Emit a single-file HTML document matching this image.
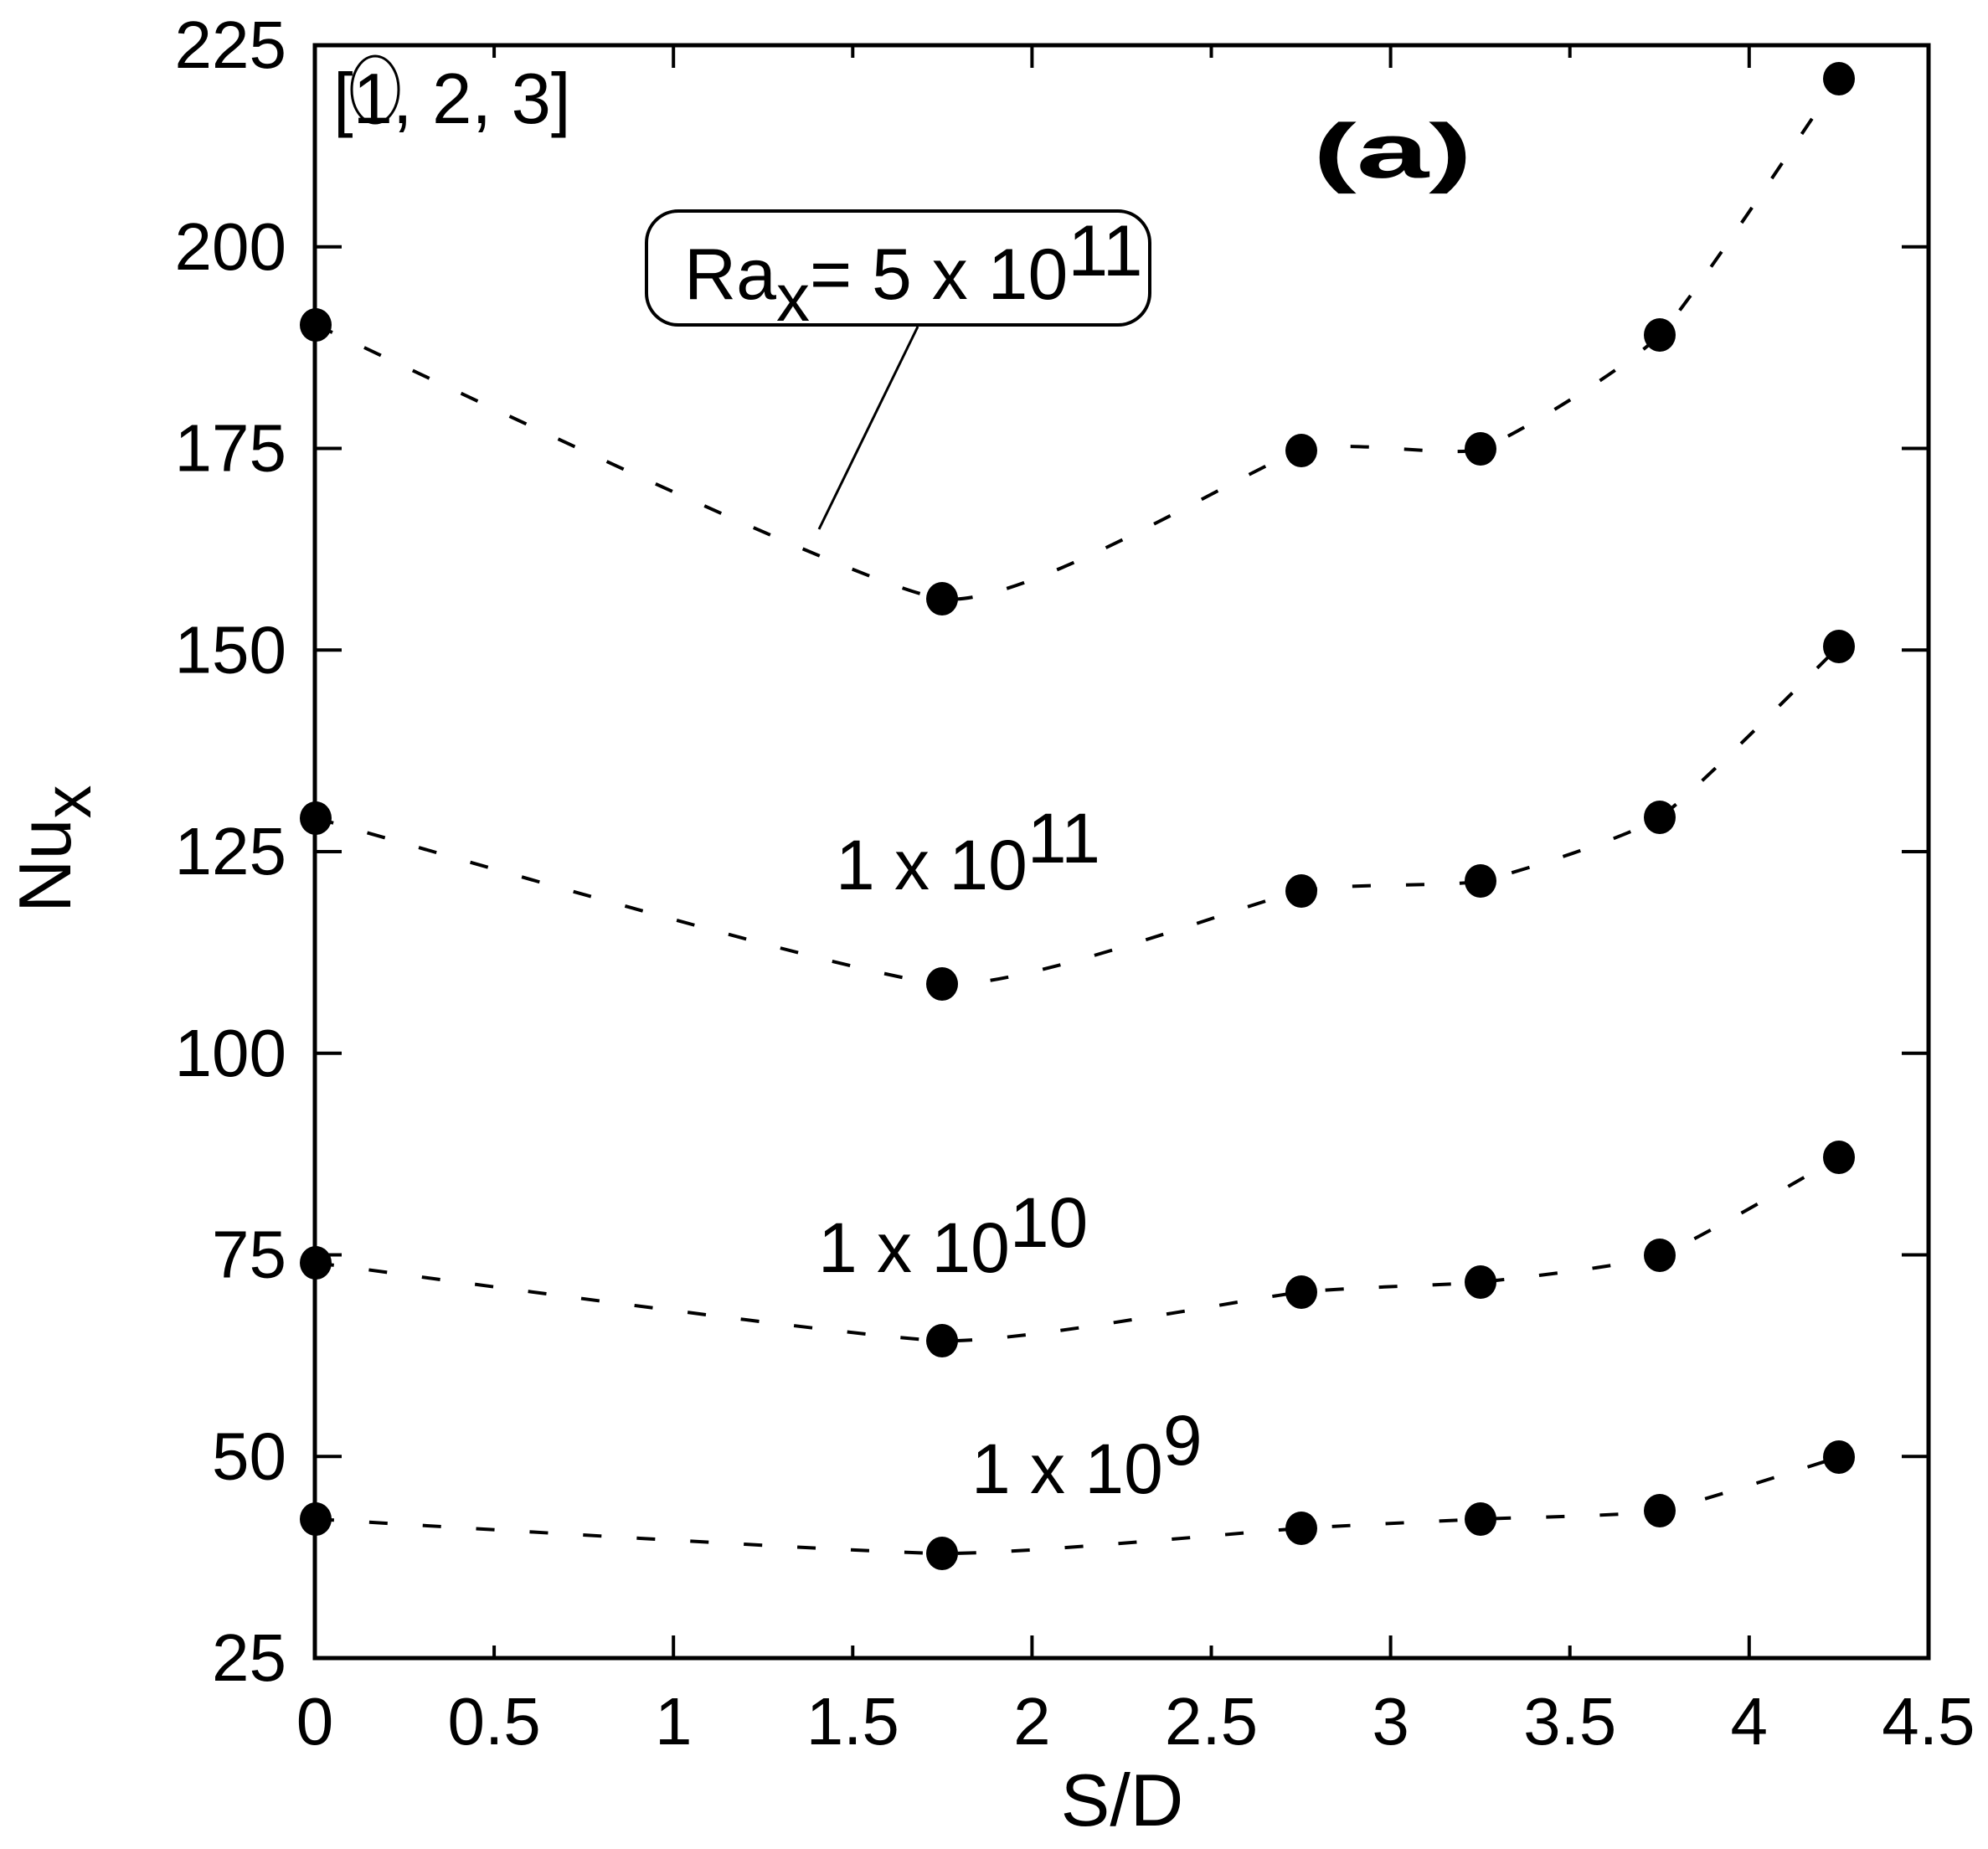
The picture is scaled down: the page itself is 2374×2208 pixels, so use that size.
<!DOCTYPE html>
<html><head><meta charset="utf-8"><style>
html,body{margin:0;padding:0;background:#fff;}
svg{display:block;}
text{font-family:"Liberation Sans",sans-serif;fill:#000;}
</style></head><body>
<svg id="s" width="2374" height="2208" viewBox="0 0 2374 2208" xmlns="http://www.w3.org/2000/svg">
<rect width="2374" height="2208" fill="#fff"/>
<g id="ticks" stroke="#000" stroke-width="4"></g>
<rect x="376" y="54" width="1927" height="1926" fill="none" stroke="#000" stroke-width="5"/>
<g id="ylab" font-size="80"></g>
<g id="xlab" font-size="80"></g>
<g id="series"></g>
<text x="1340" y="2180" font-size="88" text-anchor="middle">S/D</text>
<text transform="translate(84,1090) rotate(-90)" font-size="88">Nu<tspan font-size="80" dy="24">x</tspan></text>
<text x="1568" y="212" font-family="Liberation Serif, serif" font-weight="bold" font-size="92" textLength="190" lengthAdjust="spacingAndGlyphs">(a)</text>
<text x="398" y="147" font-size="85">[1, 2, 3]</text>
<ellipse cx="448" cy="107" rx="28" ry="40" fill="none" stroke="#000" stroke-width="3"/>
<rect x="772" y="252" width="601" height="136" rx="38" ry="38" fill="#fff" stroke="#000" stroke-width="4"/>
<line x1="1096" y1="390" x2="978" y2="632" stroke="#000" stroke-width="3"/>
<text x="817" y="357" font-size="86">Ra<tspan dy="26" font-size="80">x</tspan><tspan dy="-26">= 5 x 10</tspan><tspan dy="-28">11</tspan></text>
<text x="998" y="1062" font-size="84">1 x 10<tspan dy="-32">11</tspan></text>
<text x="977" y="1519" font-size="84">1 x 10<tspan dy="-30">10</tspan></text>
<text x="1160" y="1783" font-size="84">1 x 10<tspan dy="-34">9</tspan></text>
</svg>
<script>
var NS="http://www.w3.org/2000/svg";
function el(n,a,p,t){var e=document.createElementNS(NS,n);for(var k in a)e.setAttribute(k,a[k]);if(t!==undefined)e.textContent=t;p.appendChild(e);return e;}
var L=376,R=2303,T=54,B=1980;
function X(s){return L+s*428.2;}
function Y(v){return T+(225-v)*9.63;}
var tk=document.getElementById('ticks');
for(var v=25;v<=225;v+=25){var y=Y(v);
 el('line',{x1:L,y1:y,x2:L+32,y2:y},tk);el('line',{x1:R,y1:y,x2:R-32,y2:y},tk);
 el('text',{x:342,y:y+27,'text-anchor':'end'},document.getElementById('ylab'),String(v));}
var xl=['0','0.5','1','1.5','2','2.5','3','3.5','4','4.5'];
for(var i=0;i<=9;i++){var s=i*0.5,x=X(s),len=(i%2==0)?27:15;
 el('line',{x1:x,y1:B,x2:x,y2:B-len},tk);el('line',{x1:x,y1:T,x2:x,y2:T+len},tk);
 el('text',{x:x,y:2083,'text-anchor':'middle'},document.getElementById('xlab'),xl[i]);}
var xs=[377,1125,1554,1768,1982,2196];
var S=[[388,715,538,536,400,94],[977,1175,1064,1052,976,772],[1508,1601,1543,1531,1499,1382],[1814,1855,1825,1814,1804,1740]];
var g=document.getElementById('series');
S.forEach(function(ys){
 var P=xs.map(function(x,i){return [x,ys[i]];});
 var d='M'+P[0][0]+','+P[0][1];
 var k=12;
 for(var i=0;i<P.length-1;i++){
  var p0=P[Math.max(i-1,0)],p1=P[i],p2=P[i+1],p3=P[Math.min(i+2,P.length-1)];
  var c1=[p1[0]+(p2[0]-p0[0])/k,p1[1]+(p2[1]-p0[1])/k];
  var c2=[p2[0]-(p3[0]-p1[0])/k,p2[1]-(p3[1]-p1[1])/k];
  d+=' C'+c1[0]+','+c1[1]+' '+c2[0]+','+c2[1]+' '+p2[0]+','+p2[1];}
 el('path',{d:d,fill:'none',stroke:'#000','stroke-width':4,'stroke-dasharray':'22 42'},g);
 P.forEach(function(p){el('ellipse',{cx:p[0],cy:p[1],rx:19,ry:20,fill:'#000'},g);});
});
</script>
</body></html>
